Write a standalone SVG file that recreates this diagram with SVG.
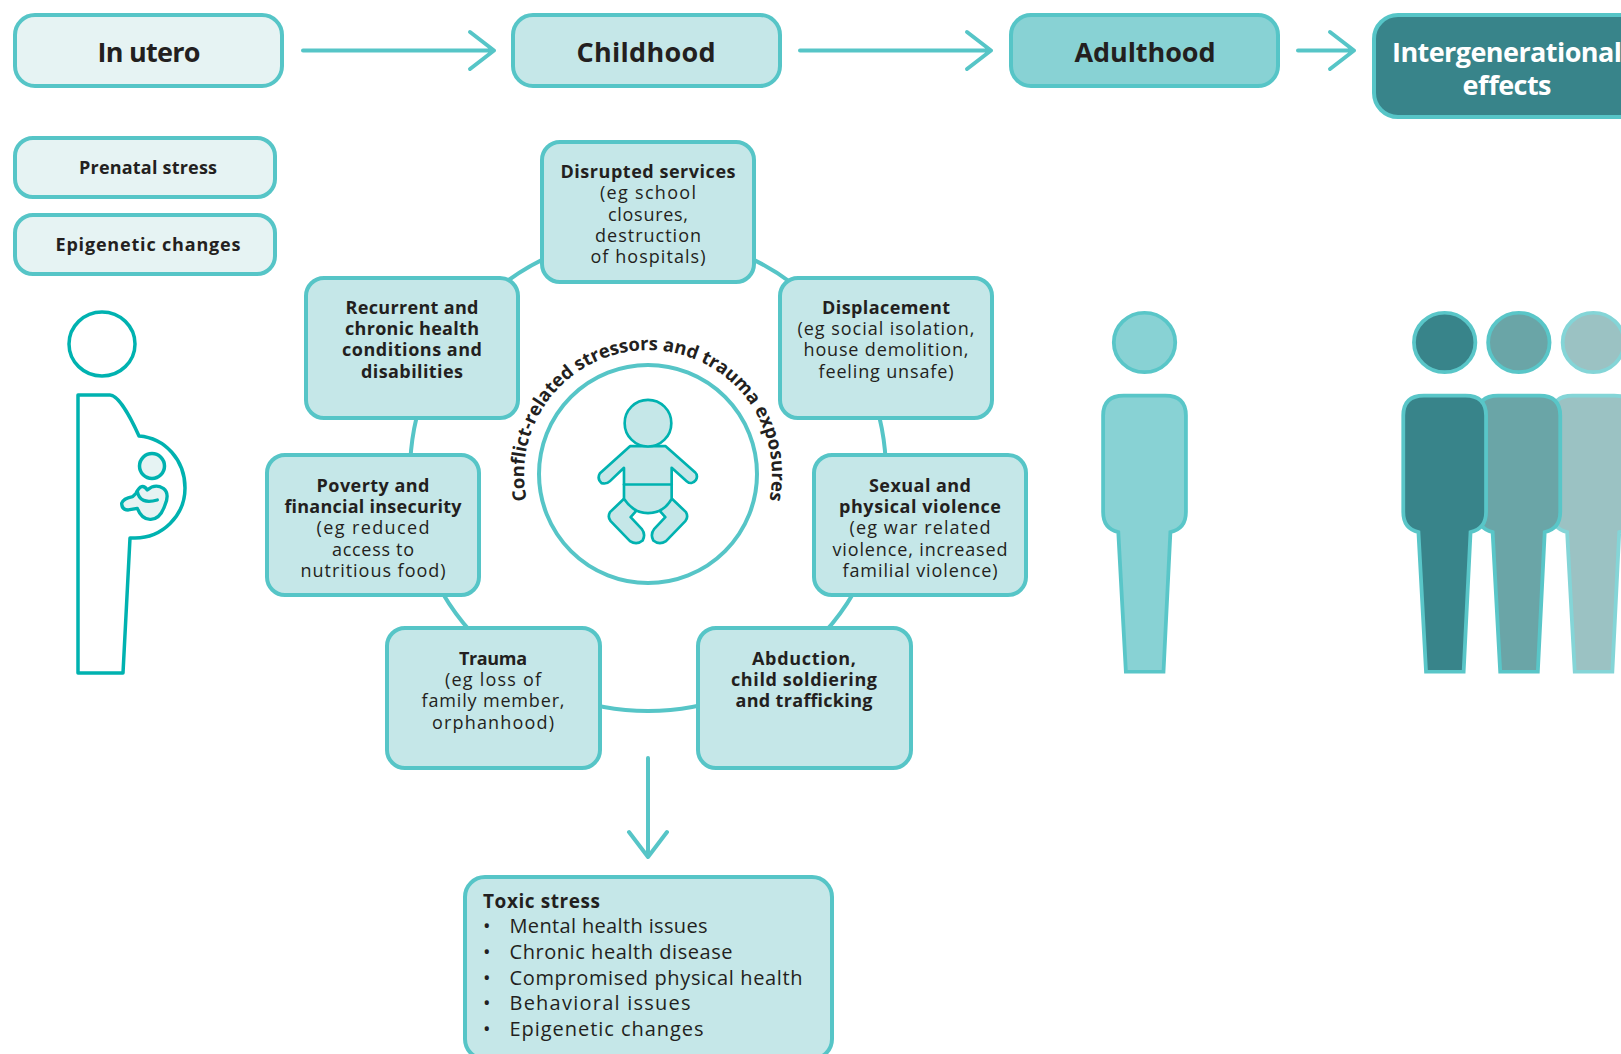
<svg xmlns="http://www.w3.org/2000/svg" xmlns:xlink="http://www.w3.org/1999/xlink" width="1621" height="1054" viewBox="0 0 1621 1054">
<style>
text{font-family:"Open Sans","Liberation Sans",sans-serif;fill:#231f20;text-anchor:middle}
.b{stroke:#56c5c7;stroke-width:4}
.f1{fill:#e6f3f3}.f2{fill:#c5e7e8}.f3{fill:#88d2d4}.f4{fill:#38848a}
.t{font-size:27px;font-weight:700}
.h{font-size:18px;font-weight:700}
.n{font-size:18px;font-weight:400}
.l{font-size:20px;text-anchor:start}
.c{fill:none;stroke:#56c5c7;stroke-width:4;stroke-linecap:round;stroke-linejoin:round}
.g{stroke:#00b2b0;stroke-linejoin:round;stroke-linecap:round}
</style>
<defs>
<g id="person">
<circle cx="187" cy="157" r="89"/>
<path d="M127 316H247Q307 316 307 376V665Q307 715 262 725L242 1143H133L111 725Q67 715 67 665V376Q67 316 127 316Z"/>
</g>
</defs>
<g id="connectors">
<circle class="c" cx="648" cy="473" r="238"/>
<path class="c" d="M303 50.500H494M470 32L494 50.500L470 69"/>
<path class="c" d="M800 50.500H991M967 32L991 50.500L967 69"/>
<path class="c" d="M1298 50.500H1354M1330 32L1354 50.500L1330 69"/>
<path class="c" d="M648 758V857M629 832L648 857L667 832"/>
</g>
<g id="stage-utero"><rect class="b f1" x="15" y="15" width="267" height="71" rx="20"/><text class="t" x="149" y="62" textLength="103">In utero</text></g>
<g id="stage-childhood"><rect class="b f2" x="513" y="15" width="267" height="71" rx="20"/><text class="t" x="646" y="62" textLength="139">Childhood</text></g>
<g id="stage-adulthood"><rect class="b f3" x="1011" y="15" width="267" height="71" rx="20"/><text class="t" x="1145" y="62" textLength="141">Adulthood</text></g>
<g id="stage-intergenerational"><rect class="b f4" x="1374" y="15" width="269" height="102" rx="24"/><text class="t" x="1507" y="62" textLength="230" style="fill:#fff">Intergenerational</text><text class="t" x="1507" y="94.500" textLength="89" style="fill:#fff">effects</text></g>
<g id="prenatal"><rect class="b f1" x="15" y="138" width="260" height="59" rx="18"/><text class="h" x="148" y="174" textLength="138">Prenatal stress</text></g>
<g id="epigenetic"><rect class="b f1" x="15" y="215" width="260" height="59" rx="18"/><text class="h" x="148" y="251" textLength="185">Epigenetic changes</text></g>
<g id="pregnant-figure">
<ellipse cx="102" cy="344" rx="33" ry="32" fill="#fff" stroke="#00b2b0" stroke-width="3.500"/>
<path class="g" fill="#fff" stroke-width="3.500" d="M78 395H110C118 395 130 416 139 436C165 438 185 460 185 488C185 516 162 538 135 538H130L123 673H78Z"/>
<circle class="g f1" cx="152" cy="466" r="12.500" stroke-width="3.500"/>
<g transform="translate(0 280) scale(.3333)" class="g f1" stroke-width="10">
<path d="M408 640Q425 605 442 630Q465 610 490 625Q510 640 495 675Q480 720 450 718Q425 718 412 685L385 690Q365 690 365 670Q370 655 398 650Z"/>
<path fill="none" d="M412 635Q420 675 472 660"/>
</g>
</g>
<g id="disrupted"><rect class="b f2" x="542" y="142" width="212" height="140" rx="18"/>
<text class="h" x="648" y="178" textLength="175">Disrupted services</text><text class="n" x="648" y="199" textLength="96">(eg school</text><text class="n" x="648" y="220.500" textLength="80">closures,</text><text class="n" x="648" y="242" textLength="106">destruction</text><text class="n" x="648" y="263" textLength="115">of hospitals)</text></g>
<g id="displacement"><rect class="b f2" x="780" y="278" width="212" height="140" rx="18"/>
<text class="h" x="886" y="314" textLength="128">Displacement</text><text class="n" x="886" y="335" textLength="177">(eg social isolation,</text><text class="n" x="886" y="356" textLength="165">house demolition,</text><text class="n" x="886" y="378" textLength="135">feeling unsafe)</text></g>
<g id="recurrent"><rect class="b f2" x="306" y="278" width="212" height="140" rx="18"/>
<text class="h" x="412" y="314" textLength="133">Recurrent and</text><text class="h" x="412" y="335" textLength="134">chronic health</text><text class="h" x="412" y="356" textLength="140">conditions and</text><text class="h" x="412" y="378" textLength="102">disabilities</text></g>
<g id="poverty"><rect class="b f2" x="267" y="455" width="212" height="140" rx="18"/>
<text class="h" x="373" y="491.500" textLength="113">Poverty and</text><text class="h" x="373" y="512.500" textLength="177">financial insecurity</text><text class="n" x="373" y="534" textLength="113">(eg reduced</text><text class="n" x="373" y="555.500" textLength="82">access to</text><text class="n" x="373" y="577" textLength="145">nutritious food)</text></g>
<g id="violence"><rect class="b f2" x="814" y="455" width="212" height="140" rx="18"/>
<text class="h" x="920" y="491.500" textLength="102">Sexual and</text><text class="h" x="920" y="512.500" textLength="162">physical violence</text><text class="n" x="920" y="534" textLength="141">(eg war related</text><text class="n" x="920" y="555.500" textLength="175">violence, increased</text><text class="n" x="920" y="577" textLength="155">familial violence)</text></g>
<g id="trauma"><rect class="b f2" x="387" y="628" width="213" height="140" rx="18"/>
<text class="h" x="493" y="664.500" textLength="68">Trauma</text><text class="n" x="493" y="686" textLength="96">(eg loss of</text><text class="n" x="493" y="707" textLength="143">family member,</text><text class="n" x="493" y="729" textLength="122">orphanhood)</text></g>
<g id="abduction"><rect class="b f2" x="698" y="628" width="213" height="140" rx="18"/>
<text class="h" x="804" y="664.500" textLength="104">Abduction,</text><text class="h" x="804" y="686" textLength="146">child soldiering</text><text class="h" x="804" y="707" textLength="137">and trafficking</text></g>
<g id="center">
<circle cx="648" cy="474" r="109" fill="#fff" stroke="#56c5c7" stroke-width="4"/>
<path id="arc" fill="none" d="M527.400 503A124 124 0 1 1 768.600 503"/>
<text style="font-size:18.500px;font-weight:700;text-anchor:middle;letter-spacing:-.1px"><textPath href="#arc" xlink:href="#arc" startOffset="50%">Conflict-related stressors and trauma exposures</textPath></text>
<g transform="translate(500 330.500) scale(.3333)" class="g f2" stroke-width="8">
<path d="M372 505L330 545Q322 560 332 572L390 632Q410 645 428 630Q438 612 425 595L392 560L410 540Z"/>
<path d="M516 505L558 545Q566 560 556 572L498 632Q478 645 460 630Q450 612 463 595L496 560L478 540Z"/>
<path d="M390 347L300 428Q290 445 305 458Q320 462 330 452L372 412V505Q400 548 444 548Q490 548 515 505V412L560 452Q575 465 588 448Q595 435 585 425L497 347Z"/>
<path fill="none" d="M372 462H515"/>
<circle cx="444" cy="278" r="70"/>
</g>
</g>
<g id="toxic"><rect class="b f2" x="465" y="877" width="367" height="182" rx="20"/>
<text class="h" x="483" y="907.500" textLength="117" style="text-anchor:start;font-size:19px">Toxic stress</text>
<text class="l" x="483" y="933">•</text><text class="l" x="509.500" y="933" textLength="198">Mental health issues</text>
<text class="l" x="483" y="959">•</text><text class="l" x="509.500" y="959" textLength="223">Chronic health disease</text>
<text class="l" x="483" y="985">•</text><text class="l" x="509.500" y="985" textLength="293">Compromised physical health</text>
<text class="l" x="483" y="1010">•</text><text class="l" x="509.500" y="1010" textLength="181">Behavioral issues</text>
<text class="l" x="483" y="1036">•</text><text class="l" x="509.500" y="1036" textLength="194">Epigenetic changes</text></g>
<g id="adult-figure" transform="translate(1080 290) scale(.345 .334)" fill="#88d2d4" stroke="#59c6c8" stroke-width="11"><use href="#person" xlink:href="#person"/></g>
<g id="generations" transform="translate(1080 290) scale(.345 .334)" stroke-width="11">
<use href="#person" xlink:href="#person" x="1301" fill="#9bc2c3" stroke="#84d5d7"/>
<use href="#person" xlink:href="#person" x="1085" fill="#6aa5a7" stroke="#59c6c8"/>
<use href="#person" xlink:href="#person" x="870" fill="#38848a" stroke="#59c6c8"/>
</g>
</svg>
